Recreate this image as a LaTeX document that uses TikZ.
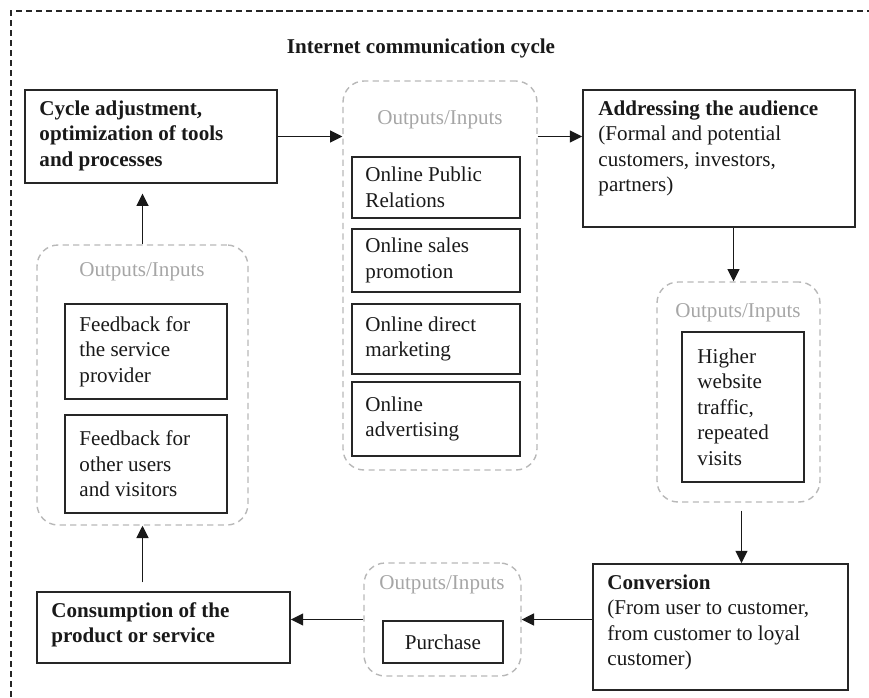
\documentclass[tikz,border=0pt]{standalone}
\usepackage{fontspec}
\setmainfont{Liberation Serif}
\usetikzlibrary{fit,arrows.meta,calc}

\begin{document}
\begin{tikzpicture}[x=0.02cm,y=-0.02cm,
  box/.style={draw=black!85, line width=1pt, inner sep=0pt},
  group/.style={draw=black!28, line width=0.8pt, dash pattern=on 3.5pt off 2.5pt,
                rounded corners=12pt, inner sep=0pt},
  txt/.style={font=\fontsize{12}{14.5}\selectfont, align=left, inner sep=0pt, text=black!90},
  txtb/.style={txt, font=\fontsize{12}{14.5}\selectfont\bfseries},
  grouplabel/.style={font=\fontsize{12}{14.5}\selectfont, text=black!35, inner sep=0pt},
  flow/.style={draw=black!90, line width=0.85pt, -{Triangle[length=7pt,width=6.8pt]}},
]
\useasboundingbox (0,0) rectangle (869,697);

% outer frame
\draw[black!85, line width=0.7pt, dash pattern=on 3.5pt off 2.2pt] (11,697) -- (11,11) -- (869,11);

% title
\node[txtb] (title) at (421,48) {Internet communication cycle};

% cycle adjustment
\node[box, fit={(25,90)(277,183)}] (adjust) {};
\node[txtb, anchor=north west] (adjusttxt) at ([xshift=0.3cm,yshift=-0.22cm]adjust.north west)
  {Cycle adjustment,\\optimization of tools\\and processes};

% communication tools
\node[group, fit={(343,81)(537,470)}] (g1) {};
\node[grouplabel] (g1lbl) at (440,120) {Outputs/Inputs};
\node[box, fit={(352,157)(520,218)}] (pr) {};
\node[txt, anchor=west] (prtxt) at ([xshift=0.28cm]pr.west) {Online Public\\Relations};
\node[box, fit={(352,229)(520,292)}] (sales) {};
\node[txt, anchor=west] (salestxt) at ([xshift=0.28cm]sales.west) {Online sales\\promotion};
\node[box, fit={(352,304)(520,374)}] (direct) {};
\node[txt, anchor=west] (directtxt) at ([xshift=0.28cm]direct.west) {Online direct\\marketing};
\node[box, fit={(352,382)(520,456)}] (adv) {};
\node[txt, anchor=west] (advtxt) at ([xshift=0.28cm]adv.west) {Online\\advertising};

% audience
\node[box, fit={(583,90)(855,227)}] (addr) {};
\node[txt, anchor=north west] (addrtxt) at ([xshift=0.32cm,yshift=-0.22cm]addr.north west)
  {\textbf{Addressing the audience}\\(Formal and potential\\customers, investors,\\partners)};

% traffic
\node[group, fit={(657,282)(820,502)}] (g2) {};
\node[grouplabel] (g2lbl) at (738,313) {Outputs/Inputs};
\node[box, fit={(682,332)(804,482)}] (traffic) {};
\node[txt, anchor=west] (traffictxt) at ([xshift=0.32cm]traffic.west)
  {Higher\\website\\traffic,\\repeated\\visits};

% conversion
\node[box, fit={(593,564)(848,690)}] (conv) {};
\node[txt, anchor=north west] (convtxt) at ([xshift=0.3cm,yshift=-0.22cm]conv.north west)
  {\textbf{Conversion}\\(From user to customer,\\from customer to loyal\\customer)};

% purchase
\node[group, fit={(364,563)(521,676)}] (g3) {};
\node[grouplabel] (g3lbl) at (442,585) {Outputs/Inputs};
\node[box, fit={(383,621)(503,663)}] (purchase) {};
\node[txt] (purchasetxt) at (purchase.center) {Purchase};

% consumption
\node[box, fit={(37,592)(290,663)}] (cons) {};
\node[txtb, anchor=north west] (constxt) at ([xshift=0.3cm,yshift=-0.22cm]cons.north west)
  {Consumption of the\\product or service};

% feedback
\node[group, fit={(37,245)(248,525)}] (g4) {};
\node[grouplabel] (g4lbl) at (142,272) {Outputs/Inputs};
\node[box, fit={(65,304)(227,399)}] (fb1) {};
\node[txt, anchor=west] (fb1txt) at ([xshift=0.3cm]fb1.west) {Feedback for\\the service\\provider};
\node[box, fit={(65,415)(227,513)}] (fb2) {};
\node[txt, anchor=west] (fb2txt) at ([xshift=0.3cm]fb2.west) {Feedback for\\other users\\and visitors};

% cycle connectors
\draw[flow] (adjust.east) -- (adjust.east -| g1.west);
\draw[flow] (g1.east |- adjust.east) -- (addr.west |- adjust.east);
\draw[flow] ($(g2.north |- addr.south)+(-5,0)$) -- ($(g2.north)+(-5,0)$);
\draw[flow] ($(g2.south)+(3,8)$) -- ($(g2.south |- conv.north)+(3,0)$);
\draw[flow] (conv.west |- g3.east) -- (g3.east);
\draw[flow] (g3.west) -- (g3.west -| cons.east);
\draw[flow, shorten <=5pt] (g4.south |- cons.north) -- (g4.south);
\draw[flow, shorten >=5.5pt] (g4.north) -- (g4.north |- adjust.south);
\end{tikzpicture}
\end{document}
